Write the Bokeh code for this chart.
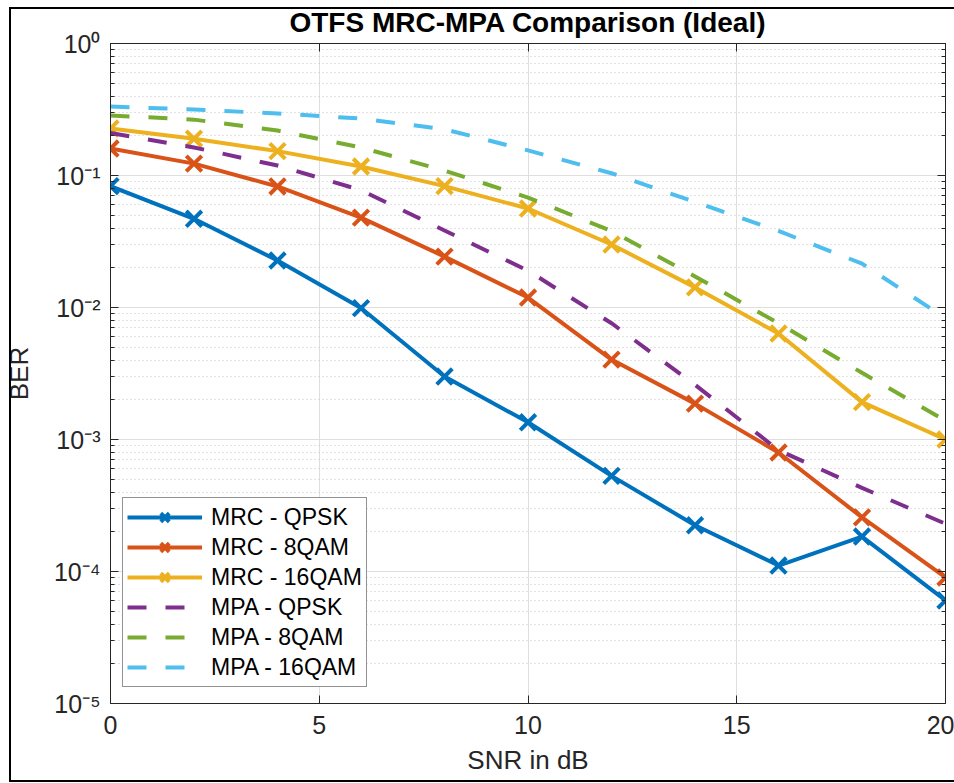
from bokeh.plotting import figure
from bokeh.models import (Range1d, FixedTicker, Legend, LegendItem, LinearAxis, LogAxis,
                          CustomJSTickFormatter, CustomLabelingPolicy, InlineStyleSheet)
from bokeh.embed import file_html
from bokeh.resources import INLINE

# ---------------- data ----------------
snr = [0, 2, 4, 6, 8, 10, 12, 14, 16, 18, 20]

mrc_qpsk = [0.083, 0.047, 0.0227, 0.0099, 0.0030, 0.00135, 0.00053, 0.000224, 0.000111, 0.000184, 0.0000603]
mrc_8qam = [0.160, 0.123, 0.0826, 0.048, 0.0243, 0.0119, 0.00403, 0.00187, 0.000797, 0.000257, 0.0000901]
mrc_16qam = [0.227, 0.19, 0.153, 0.117, 0.0831, 0.0562, 0.030, 0.0142, 0.00635, 0.00192, 0.00100]

mpa_qpsk = [0.21, 0.163, 0.119, 0.0774, 0.0383, 0.019, 0.0076, 0.0026, 0.00083, 0.00043, 0.00023]
mpa_8qam = [0.285, 0.265, 0.219, 0.163, 0.109, 0.068, 0.038, 0.0172, 0.0076, 0.0032, 0.00139]
mpa_16qam = [0.333, 0.316, 0.295, 0.27, 0.224, 0.155, 0.104, 0.063, 0.038, 0.0215, 0.0083]

labels = ["MRC - QPSK", "MRC - 8QAM", "MRC - 16QAM", "MPA - QPSK", "MPA - 8QAM", "MPA - 16QAM"]
colors = ["#0072BD", "#D95319", "#EDB120", "#7E2F8E", "#77AC30", "#4DBEEE"]

x_ticks = [0, 5, 10, 15, 20]
y_exponents = [-5, -4, -3, -2, -1, 0]

FONT = "Liberation Sans"
AX = "#262626"

# ---------------- figure ----------------
p = figure(width=954, height=783, y_axis_type="log",
           x_range=Range1d(0, 20), y_range=Range1d(1e-5, 1),
           output_backend="svg", toolbar_location=None,
           min_border_left=108, min_border_right=9, min_border_top=43, min_border_bottom=80,
           background_fill_color="white", border_fill_color="white")
p.outline_line_color = AX
p.outline_line_width = 1

# outer figure frame (left, top and bottom edges are visible in the reference)
p.stylesheets = [InlineStyleSheet(css="""
:host { position: relative; }
:host::after {
  content: ""; position: absolute; left: 9px; top: 7px; right: 0px; bottom: 1px;
  border-left: 2px solid #000; border-top: 2px solid #000; border-bottom: 2px solid #000;
  box-sizing: border-box; pointer-events: none; z-index: 10;
}
""")]

p.title.text = "OTFS MRC-MPA Comparison (Ideal)"
p.title.text_font = FONT
p.title.text_font_size = "28px"
p.title.text_font_style = "bold"
p.title.text_color = "black"
p.title.align = "center"
p.title.standoff = 3

y_major = [10.0 ** e for e in y_exponents]
y_minor = [k * 10.0 ** e for e in y_exponents[:-1] for k in range(2, 10)]
yticker = FixedTicker(ticks=y_major, minor_ticks=y_minor)
xticker = FixedTicker(ticks=x_ticks, minor_ticks=[])

sup_fmt = CustomJSTickFormatter(code="""
const e = Math.round(Math.log10(tick));
const sup = {'-':'\u207b','0':'\u2070','1':'\u00b9','2':'\u00b2','3':'\u00b3','4':'\u2074','5':'\u2075','6':'\u2076','7':'\u2077','8':'\u2078','9':'\u2079'};
return '10' + String(e).split('').map(c => sup[c]).join('');
""")

def style_axis(ax):
    ax.axis_line_color = AX
    ax.axis_line_width = 1
    ax.major_tick_line_color = AX
    ax.minor_tick_line_color = AX
    ax.major_tick_in = 8
    ax.major_tick_out = 0
    ax.minor_tick_in = 4
    ax.minor_tick_out = 0
    ax.major_label_text_font = FONT
    ax.major_label_text_font_size = "25px"
    ax.major_label_text_color = AX
    ax.axis_label_text_font = FONT
    ax.axis_label_text_font_size = "26px"
    ax.axis_label_text_font_style = "normal"
    ax.axis_label_text_color = AX

xa = p.xaxis[0]
ya = p.yaxis[0]
style_axis(xa)
style_axis(ya)
xa.ticker = xticker
ya.ticker = yticker
ya.formatter = sup_fmt
xa.axis_label = "SNR in dB"
ya.axis_label = "BER"
xa.major_label_standoff = 12
xa.axis_label_standoff = 8
ya.major_label_standoff = 10
ya.axis_label_standoff = 17

# tick marks only on the top and right edges of the box
no_labels = CustomLabelingPolicy(code="for (const i of indices) { if (false) yield i }")
top = LinearAxis(ticker=xticker, major_label_policy=no_labels)
style_axis(top)
top.major_label_text_font_size = "1px"
top.major_label_standoff = 0
p.add_layout(top, "above")
right = LogAxis(ticker=yticker, major_label_policy=no_labels)
style_axis(right)
right.major_label_text_font_size = "1px"
right.major_label_standoff = 0
p.add_layout(right, "right")

p.xgrid[0].ticker = xticker
p.ygrid[0].ticker = yticker
p.xgrid.grid_line_color = "#dedede"
p.ygrid.grid_line_color = "#dedede"
p.ygrid.minor_grid_line_color = "#c4c4c4"
p.ygrid.minor_grid_line_dash = "1 3"

# ---------------- series ----------------
items = []
mrc_series = [mrc_qpsk, mrc_8qam, mrc_16qam]
mpa_series = [mpa_qpsk, mpa_8qam, mpa_16qam]
for i, ys in enumerate(mrc_series):
    ln = p.line(snr, ys, line_color=colors[i], line_width=4, line_join="round")
    sc = p.scatter(snr, ys, marker="x", size=22, line_color=colors[i], line_width=4)
    items.append(LegendItem(label=labels[i], renderers=[ln, sc]))
for j, ys in enumerate(mpa_series):
    i = j + 3
    ln = p.line(snr, ys, line_color=colors[i], line_width=4, line_dash="19 19")
    items.append(LegendItem(label=labels[i], renderers=[ln]))

legend = Legend(items=items, location=(12, 16),
                label_text_font=FONT, label_text_font_size="23px", label_text_color="black",
                glyph_width=75, glyph_height=30, label_height=30, label_standoff=9,
                spacing=0, padding=4, margin=0,
                border_line_color=AX, border_line_width=1,
                background_fill_color="white", background_fill_alpha=1)
p.add_layout(legend)

open("out.html", "w").write(file_html(p, INLINE))
